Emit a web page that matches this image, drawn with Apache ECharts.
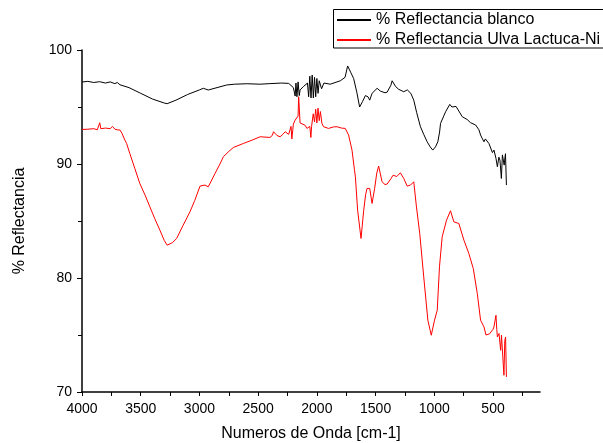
<!DOCTYPE html>
<html>
<head>
<meta charset="utf-8">
<script src="https://cdn.jsdelivr.net/npm/echarts@6/dist/echarts.min.js"></script>
<style>
html,body{margin:0;padding:0;background:#fff;}
#c{width:603px;height:443px;}
</style>
</head>
<body>
<div id="c"></div>
<script>
var seriesNames = ['% Reflectancia blanco', '% Reflectancia Ulva Lactuca-Ni'];
var xLabelValues = [4000, 3500, 3000, 2500, 2000, 1500, 1000, 500];
var xTickValues = [4000, 3750, 3500, 3250, 3000, 2750, 2500, 2250, 2000, 1750, 1500, 1250, 1000, 750, 500, 250];

var blancoWn = [4000,3950,3900,3850,3800,3760,3720,3700,3677,3600,3500,3400,3300,3275,3200,3100,3000,2967,2925,2850,2768,2700,2597,2483,2400,2300,2240,2200,2185,2178,2170,2160,2150,2143,2114,2080,2070,2060,2050,2040,2030,2020,2010,2000,1990,1980,1960,1940,1886,1800,1760,1738,1710,1687,1660,1636,1610,1587,1565,1550,1530,1487,1460,1445,1420,1402,1370,1359,1330,1303,1260,1230,1218,1200,1175,1150,1118,1090,1061,1035,1013,990,970,955,947,920,904,868,850,834,815,805,762,720,691,648,620,606,590,577,565,548,535,520,505,492,475,463,450,441,429,420,412,405,401,394,386];
var blancoVal = [97.19,97.25,97.15,97.22,97.1,97.2,97.05,97.15,96.95,96.7,96.2,95.7,95.35,95.29,95.6,96.1,96.5,96.64,96.49,96.7,96.93,97.0,97.04,97.0,97.05,97.1,97.07,96.7,95.96,97.1,95.9,97.2,96.0,96.5,96.8,97.1,95.9,97.7,95.8,97.8,95.8,97.6,95.9,97.5,96.2,97.3,96.6,97.1,97.0,97.3,97.6,98.6,98.0,97.5,96.3,95.0,95.5,96.0,95.9,95.6,96.2,96.64,96.4,96.43,96.25,96.3,96.9,97.3,96.8,96.55,96.34,96.5,96.64,96.2,95.6,94.5,93.27,92.6,91.95,91.5,91.22,91.5,91.95,92.8,93.56,94.2,94.58,95.23,95.0,94.88,95.05,94.97,94.15,93.9,93.62,93.42,93.0,92.54,92.2,91.95,92.2,92.1,91.8,91.66,91.0,91.22,90.5,89.76,90.6,90.34,88.73,90.8,90.93,89.9,90.34,90.9,88.15];

var ulvaWn = [4000,3950,3900,3870,3849,3840,3800,3760,3740,3720,3700,3677,3660,3635,3620,3593,3550,3508,3460,3422,3380,3337,3300,3275,3230,3194,3140,3081,3040,2995,2953,2925,2900,2867,2830,2796,2750,2711,2626,2550,2483,2400,2380,2369,2340,2313,2290,2270,2240,2220,2213,2200,2185,2170,2160,2155,2150,2143,2128,2100,2085,2060,2051,2045,2031,2020,2010,2000,1990,1980,1970,1957,1943,1900,1860,1829,1790,1758,1730,1701,1680,1672,1653,1624,1601,1585,1573,1550,1530,1508,1490,1474,1445,1420,1402,1370,1351,1320,1303,1289,1260,1231,1203,1175,1152,1124,1090,1055,1026,998,975,956,933,896,862,834,791,748,706,668,634,606,577,560,548,530,520,500,492,475,468,463,449,435,428,421,407,400,393,386];
var ulvaVal = [93.03,93.05,93.1,93.0,93.62,93.1,93.15,93.1,93.3,93.05,93.0,92.98,92.7,92.1,91.8,90.93,89.6,88.3,87.2,86.24,85.2,84.2,83.3,82.88,83.1,83.47,84.6,85.8,86.8,88.06,88.15,88.0,88.5,89.17,89.9,90.64,91.1,91.45,91.8,92.1,92.39,92.33,92.5,92.83,92.5,92.39,92.6,92.83,92.6,93.3,92.2,93.5,93.85,94.0,94.2,95.9,95.76,93.6,93.71,93.4,93.12,93.3,92.33,93.3,94.4,93.7,94.8,93.6,94.9,93.8,94.6,93.56,93.27,93.12,93.25,93.27,93.15,93.12,92.54,91.22,89.5,88.88,85.95,83.47,85.95,87.3,87.86,87.86,86.54,87.86,89.2,89.82,88.44,88.2,88.24,88.7,89.02,88.9,89.02,89.23,88.73,88.06,88.15,88.44,86.24,83.9,80.1,76.3,74.98,76.3,77.17,80.98,83.61,85.07,85.9,84.93,84.78,83.32,82.15,80.83,78.64,76.3,75.71,75.0,74.83,75.1,75.27,75.5,75.71,76.73,75.5,74.83,75.13,73.66,75.0,74.83,71.47,74.5,74.83,71.32];

function pairs(xs, ys) {
  var out = [];
  for (var i = 0; i < xs.length; i++) out.push([xs[i], ys[i]]);
  return out;
}

var FONT = 'Liberation Sans, Arial, sans-serif';
var chart = echarts.init(document.getElementById('c'), null, {renderer: 'canvas'});
chart.setOption({
  animation: false,
  backgroundColor: '#fff',
  grid: {left: 82, right: 63, top: 50, bottom: 51, containLabel: false, outerBoundsMode: 'none'},
  legend: {
    orient: 'vertical',
    left: 336,
    top: 12,
    padding: 0,
    itemGap: 4,
    itemWidth: 34,
    itemHeight: 16,
    itemStyle: {opacity: 0},
    textStyle: {fontFamily: FONT, fontSize: 16, lineHeight: 16, color: '#000'},
    data: seriesNames
  },
  graphic: [{
    type: 'rect',
    shape: {x: 333.5, y: 9.5, width: 300, height: 38.5},
    style: {fill: 'none', stroke: '#000', lineWidth: 1},
    silent: true,
    z: 10
  }],
  xAxis: {
    type: 'value',
    inverse: true,
    min: 100,
    max: 4000,
    name: 'Numeros de Onda [cm-1]',
    nameLocation: 'middle',
    nameGap: 34,
    nameTextStyle: {fontFamily: FONT, fontSize: 16, color: '#000'},
    axisLine: {show: true, onZero: false, lineStyle: {color: '#000', width: 1.5}},
    axisTick: {show: true, inside: false, length: 4, customValues: xTickValues, lineStyle: {color: '#000', width: 1}},
    axisLabel: {customValues: xLabelValues, margin: 10, fontFamily: FONT, fontSize: 14, color: '#000',
      formatter: function (v) { return String(v); }},
    splitLine: {show: false}
  },
  yAxis: {
    type: 'value',
    min: 70,
    max: 100,
    interval: 10,
    name: '% Reflectancia',
    nameLocation: 'middle',
    nameGap: 54,
    nameTextStyle: {fontFamily: FONT, fontSize: 16, color: '#000'},
    axisLine: {show: true, lineStyle: {color: '#000', width: 1.5}},
    axisTick: {show: true, inside: false, length: 5, lineStyle: {color: '#000', width: 1}},
    minorTick: {show: true, splitNumber: 2, length: 4, lineStyle: {color: '#000', width: 1}},
    axisLabel: {margin: 10, fontFamily: FONT, fontSize: 14, color: '#000'},
    splitLine: {show: false}
  },
  series: [
    {
      name: seriesNames[0],
      type: 'line',
      symbol: 'none',
      showSymbol: false,
      data: pairs(blancoWn, blancoVal),
      lineStyle: {color: '#000', width: 1},
      itemStyle: {color: '#000'}
    },
    {
      name: seriesNames[1],
      type: 'line',
      symbol: 'none',
      showSymbol: false,
      data: pairs(ulvaWn, ulvaVal),
      lineStyle: {color: '#ff0000', width: 1},
      itemStyle: {color: '#ff0000'}
    }
  ]
});
</script>
</body>
</html>
